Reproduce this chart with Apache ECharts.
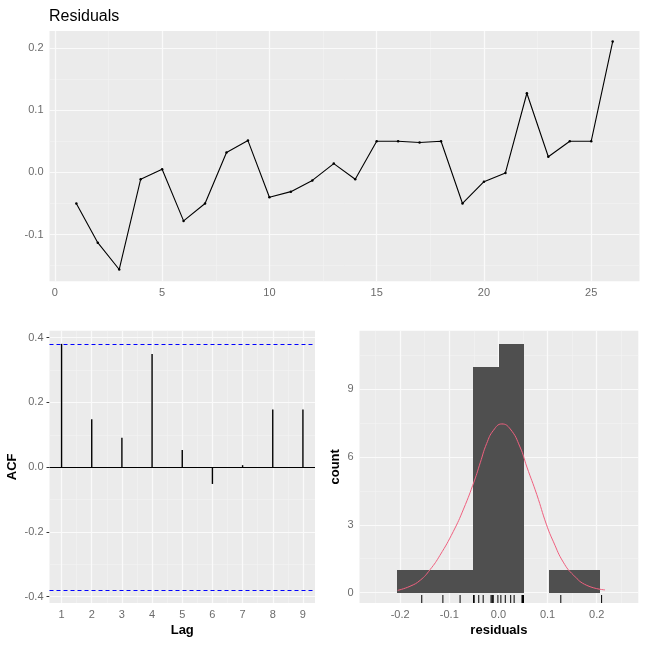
<!DOCTYPE html>
<html>
<head>
<meta charset="utf-8">
<script src="https://cdn.jsdelivr.net/npm/echarts@6/dist/echarts.min.js"></script>
<style>
  html, body { margin: 0; padding: 0; background: #fff; }
  #chart { width: 646px; height: 646px; }
</style>
</head>
<body>
<div id="chart"></div>
<script>
// residuals over time
const timeIdx = [1, 2, 3, 4, 5, 6, 7, 8, 9, 10, 11, 12, 13, 14, 15, 16, 17, 18, 19, 20, 21, 22, 23, 24, 25, 26];
const residuals = [-0.050, -0.113, -0.156, -0.011, 0.005, -0.078, -0.050, 0.032, 0.051, -0.040,
  -0.031, -0.013, 0.014, -0.011, 0.050, 0.050, 0.048, 0.050, -0.050, -0.015,
  -0.001, 0.127, 0.025, 0.050, 0.050, 0.210];

// ACF of residuals
const lags = [1, 2, 3, 4, 5, 6, 7, 8, 9];
const acfValues = [0.381, 0.148, 0.091, 0.350, 0.053, -0.052, 0.006, 0.178, 0.178];
const acfLimit = 0.384;

// histogram of residuals
const histEdges = [-0.2054, -0.1539, -0.1023, -0.0508, 0.0008, 0.0523, 0.1039, 0.1554, 0.207];
const histCounts = [1, 1, 1, 10, 11, 0, 1, 1];

// normal curve
const normX = [-0.205, -0.180, -0.159, -0.139, -0.119, -0.092, -0.071, -0.049, -0.037, -0.024, -0.010,
  0.007, 0.024, 0.044, 0.058, 0.078, 0.098, 0.112, 0.132, 0.153, 0.180, 0.217];
const normY = [0.10, 0.28, 0.55, 1.02, 1.65, 2.70, 3.70, 4.95, 5.75, 6.60, 7.19,
  7.47, 7.25, 6.45, 5.56, 4.35, 3.00, 2.25, 1.35, 0.77, 0.32, 0.12];

// tick values
const topXTicks = [0, 5, 10, 15, 20, 25];
const topXMinor = [2.5, 7.5, 12.5, 17.5, 22.5];
const topYTicks = [-0.1, 0.0, 0.1, 0.2];
const topYMinor = [-0.15, -0.05, 0.05, 0.15];
const acfYTicks = [-0.4, -0.2, 0.0, 0.2, 0.4];
const acfYMinor = [-0.3, -0.1, 0.1, 0.3];
const acfXMinor = [1.5, 2.5, 3.5, 4.5, 5.5, 6.5, 7.5, 8.5];
const histXTicks = [-0.2, -0.1, 0.0, 0.1, 0.2];
const histXMinor = [-0.25, -0.15, -0.05, 0.05, 0.15, 0.25];
const histYTicks = [0, 3, 6, 9];
const histYMinor = [1.5, 4.5, 7.5, 10.5];

const FONT = 'Liberation Sans, Arial, sans-serif';
const PANEL_BG = '#EBEBEB';
const histYMin = -0.46;

const majorStyle = { color: '#FAFAFA', width: 1.2, type: 'solid' };
const minorStyle = { color: '#F4F4F4', width: 0.6, type: 'solid' };

function gridLines(xMajor, xMinor, yMajor, yMinor) {
  const d = [];
  xMinor.forEach(v => d.push({ xAxis: v, lineStyle: minorStyle }));
  yMinor.forEach(v => d.push({ yAxis: v, lineStyle: minorStyle }));
  xMajor.forEach(v => d.push({ xAxis: v, lineStyle: majorStyle }));
  yMajor.forEach(v => d.push({ yAxis: v, lineStyle: majorStyle }));
  return d;
}

// white panel grid, drawn underneath the data
function gridSeries(idx, lines) {
  return {
    type: 'line', xAxisIndex: idx, yAxisIndex: idx, data: [], z: 1, silent: true,
    markLine: { z: 1, silent: true, symbol: 'none', label: { show: false }, data: lines }
  };
}

function valAxis(idx, min, max, ticks, fmt, extra) {
  return Object.assign({
    type: 'value', gridIndex: idx, min: min, max: max,
    axisLine: { show: false },
    axisTick: { show: true, length: 3, customValues: ticks, lineStyle: { color: '#333', width: 1 } },
    axisLabel: { customValues: ticks, margin: 6, color: '#6b6b6b', fontSize: 11, fontFamily: FONT, formatter: fmt },
    splitLine: { show: false }
  }, extra || {});
}

const fmt1 = v => Number(v).toFixed(1);
const fmt0 = v => String(Math.round(v));
const nameStyle = { color: '#000', fontSize: 13, fontWeight: 'bold', fontFamily: FONT };

const chart = echarts.init(document.getElementById('chart'), null, { renderer: 'canvas' });

chart.setOption({
  animation: false,
  backgroundColor: '#fff',
  title: {
    text: 'Residuals', left: 44, top: 4,
    textStyle: { color: '#000', fontSize: 16, fontWeight: 'normal', fontFamily: FONT }
  },
  grid: [
    { left: 49.5, top: 31, width: 590, height: 250.3, show: true, backgroundColor: PANEL_BG, borderWidth: 0 },
    { left: 49.5, top: 330.7, width: 265.5, height: 272.3, show: true, backgroundColor: PANEL_BG, borderWidth: 0 },
    { left: 359.5, top: 330.7, width: 278.8, height: 272.3, show: true, backgroundColor: PANEL_BG, borderWidth: 0 }
  ],
  xAxis: [
    valAxis(0, -0.25, 27.25, topXTicks, fmt0),
    valAxis(1, 0.6, 9.4, lags, fmt0, { name: 'Lag', nameLocation: 'middle', nameGap: 21, nameTextStyle: nameStyle }),
    valAxis(2, -0.2827, 0.2847, histXTicks, fmt1, { name: 'residuals', nameLocation: 'middle', nameGap: 21, nameTextStyle: nameStyle })
  ],
  yAxis: [
    valAxis(0, -0.175, 0.227, topYTicks, fmt1),
    valAxis(1, -0.42, 0.4217, acfYTicks, fmt1, { name: 'ACF', nameLocation: 'middle', nameGap: 31, nameTextStyle: nameStyle }),
    valAxis(2, histYMin, 11.6, histYTicks, fmt0, { name: 'count', nameLocation: 'middle', nameGap: 18, nameTextStyle: nameStyle })
  ],
  series: [
    gridSeries(0, gridLines(topXTicks, topXMinor, topYTicks, topYMinor)),
    gridSeries(1, gridLines(lags, acfXMinor, acfYTicks, acfYMinor)),
    gridSeries(2, gridLines(histXTicks, histXMinor, histYTicks, histYMinor)),
    {
      type: 'line', xAxisIndex: 0, yAxisIndex: 0, z: 3,
      data: timeIdx.map((t, i) => [t, residuals[i]]),
      symbol: 'circle', symbolSize: 2.5, showSymbol: true,
      lineStyle: { color: '#000', width: 1.1 }, itemStyle: { color: '#000' }
    },
    {
      type: 'custom', xAxisIndex: 1, yAxisIndex: 1, z: 3,
      data: lags.map((l, i) => [l, acfValues[i]]),
      renderItem: (params, api) => {
        const p0 = api.coord([api.value(0), 0]);
        const p1 = api.coord([api.value(0), api.value(1)]);
        return { type: 'line', shape: { x1: p0[0], y1: p0[1], x2: p1[0], y2: p1[1] }, style: { stroke: '#000', lineWidth: 1.4 } };
      },
      markLine: {
        z: 4, silent: true, symbol: 'none', label: { show: false },
        data: [
          { yAxis: 0, lineStyle: { color: '#000', width: 1, type: 'solid' } },
          { yAxis: acfLimit, lineStyle: { color: '#0000FF', width: 1, type: [4, 3] } },
          { yAxis: -acfLimit, lineStyle: { color: '#0000FF', width: 1, type: [4, 3] } }
        ]
      }
    },
    {
      type: 'custom', xAxisIndex: 2, yAxisIndex: 2, z: 2,
      data: histCounts.map((c, i) => [histEdges[i], c, histEdges[i + 1]]).filter(d => d[1] > 0),
      renderItem: (params, api) => {
        const p0 = api.coord([api.value(0), api.value(1)]);
        const p1 = api.coord([api.value(2), 0]);
        // snap to whole pixels so neighbouring bars join without a seam
        const x0 = Math.round(p0[0]), x1 = Math.round(p1[0]);
        const y0 = Math.round(p0[1]), y1 = Math.round(p1[1]);
        return { type: 'rect', shape: { x: x0, y: y0, width: x1 - x0, height: y1 - y0 }, style: { fill: '#4F4F4F' } };
      }
    },
    {
      type: 'line', xAxisIndex: 2, yAxisIndex: 2, z: 3,
      data: normX.map((x, i) => [x, normY[i]]),
      smooth: true, showSymbol: false,
      lineStyle: { color: '#F0607F', width: 1 }
    },
    {
      type: 'custom', xAxisIndex: 2, yAxisIndex: 2, z: 3,
      data: residuals.map(r => [r, 0]),
      renderItem: (params, api) => {
        const p = api.coord([api.value(0), histYMin]);
        return { type: 'line', shape: { x1: p[0], y1: p[1], x2: p[0], y2: p[1] - 8 }, style: { stroke: '#000', lineWidth: 1 } };
      }
    }
  ]
});
</script>
</body>
</html>
